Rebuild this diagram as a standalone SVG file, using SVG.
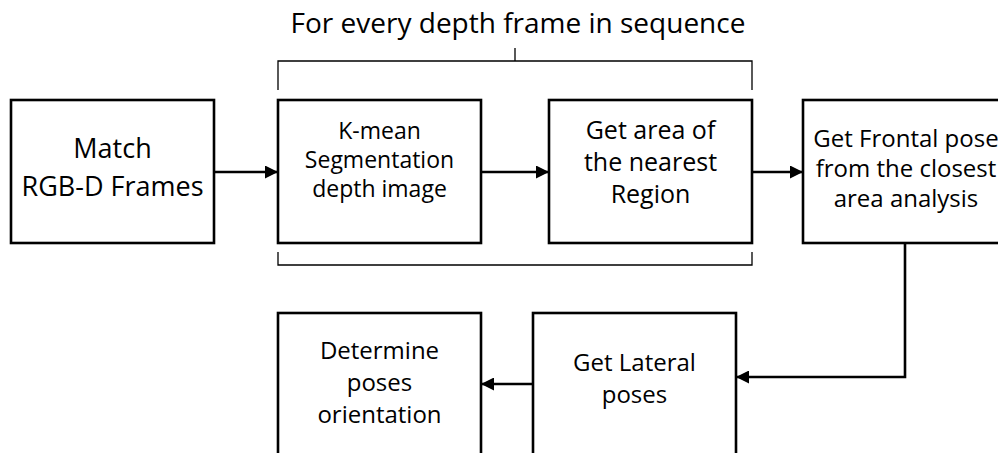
<svg xmlns="http://www.w3.org/2000/svg" width="998" height="453" viewBox="0 0 998 453">
<defs>
<marker id="ah" viewBox="0 0 13 13" refX="13" refY="6.5" markerWidth="13" markerHeight="13" markerUnits="userSpaceOnUse" orient="auto">
<path d="M0,0 L13,6.5 L0,13 Z" fill="#000"/>
</marker>
<style>
.box{fill:#fff;stroke:#000;stroke-width:2.6}
.t{font-family:"Open Sans","Liberation Sans",sans-serif;fill:#000;text-anchor:middle}
.c{fill:none;stroke:#000;stroke-width:2.6}
.br{fill:none;stroke:#000;stroke-width:1.3}
</style>
</defs>
<rect width="998" height="453" fill="#fff"/>
<text class="t" x="518" y="33" font-size="28">For every depth frame in sequence</text>
<g id="brackets">
<path class="br" d="M278,90 V61 H752 V90 M515,61 V48"/>
<path class="br" d="M278,252 V265 H752 V252"/>
</g>
<g id="n1">
<rect class="box" x="11" y="100" width="203" height="143"/>
<text class="t" font-size="27" x="112.5" y="158">Match<tspan x="112.5" dy="38">RGB-D Frames</tspan></text>
</g>
<g id="n2">
<rect class="box" x="278" y="100" width="203" height="143"/>
<text class="t" font-size="23" x="379.5" y="139">K-mean<tspan x="379.5" dy="29">Segmentation</tspan><tspan x="379.5" dy="29">depth image</tspan></text>
</g>
<g id="n3">
<rect class="box" x="549" y="100" width="203" height="143"/>
<text class="t" font-size="25" x="650.5" y="139">Get area of<tspan x="650.5" dy="32">the nearest</tspan><tspan x="650.5" dy="32">Region</tspan></text>
</g>
<g id="n4">
<rect class="box" x="803" y="100" width="204" height="143"/>
<text class="t" font-size="24" x="906" y="147">Get Frontal pose<tspan x="906" dy="30">from the closest</tspan><tspan x="906" dy="30">area analysis</tspan></text>
</g>
<g id="n5">
<rect class="box" x="278" y="313" width="203" height="150"/>
<text class="t" font-size="24" x="379.5" y="359">Determine<tspan x="379.5" dy="32">poses</tspan><tspan x="379.5" dy="32">orientation</tspan></text>
</g>
<g id="n6">
<rect class="box" x="533" y="313" width="203" height="150"/>
<text class="t" font-size="24" x="634.5" y="371">Get Lateral<tspan x="634.5" dy="32">poses</tspan></text>
</g>
<g id="connectors">
<path class="c" d="M214,172 H278" marker-end="url(#ah)"/>
<path class="c" d="M481,172 H549" marker-end="url(#ah)"/>
<path class="c" d="M752,172 H803" marker-end="url(#ah)"/>
<path class="c" d="M905,243 V377 H736" marker-end="url(#ah)"/>
<path class="c" d="M533,384 H481" marker-end="url(#ah)"/>
</g>
</svg>
